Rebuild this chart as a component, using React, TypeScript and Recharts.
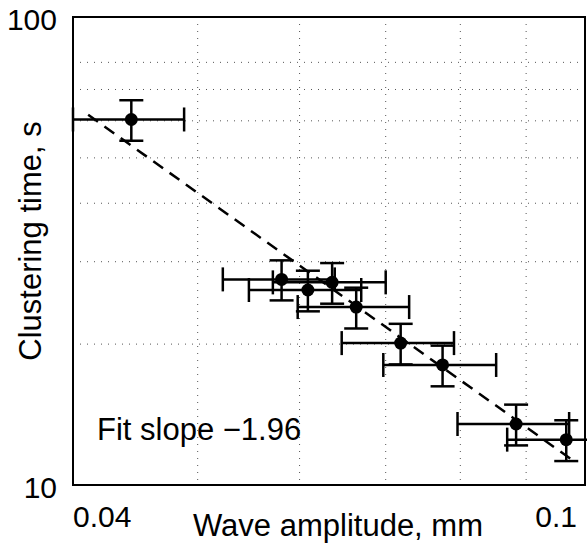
import {
  ScatterChart, Scatter, XAxis, YAxis, CartesianGrid, ErrorBar, ReferenceArea,
} from 'recharts'

// wave amplitude (mm) vs clustering time (s)
const amplitude = [0.0444, 0.0581, 0.0609, 0.0636, 0.0664, 0.0719, 0.0775, 0.0884, 0.0967]
const clusterTime = [60.4, 27.5, 26.1, 27.1, 24.0, 20.1, 18.05, 13.5, 12.5]
const amplitudeErr = [0.0044, 0.0058, 0.0061, 0.0064, 0.0066, 0.0072, 0.0078, 0.0088, 0.0097]
const timeErr = [6.0, 2.7, 2.6, 2.7, 2.4, 2.0, 1.8, 1.35, 1.25]

// power-law fit, slope -1.96 in log-log
const fitAmplitude = [0.0411, 0.0985]
const fitTime = [61.8, 11.14]

const xTicks = [0.04, 0.05, 0.06, 0.07, 0.08, 0.09, 0.1]
const yTicks = [10, 20, 30, 40, 50, 60, 70, 80, 90, 100]
const xLabelled = [0.04, 0.1]
const yLabelled = [10, 100]

const FONT = '"Liberation Sans", Arial, Helvetica, sans-serif'

const points = amplitude.map((a, i) => ({
  x: a, y: clusterTime[i], xErr: amplitudeErr[i], yErr: timeErr[i],
}))
const fitLine = fitAmplitude.map((a, i) => ({ x: a, y: fitTime[i] }))

const XTick = (props: any) => {
  const v = props.payload.value
  if (!xLabelled.includes(v)) return <g />
  const first = v === xLabelled[0]
  return (
    <text x={props.x} y={props.y + 42} textAnchor={first ? 'start' : 'end'}
      fontFamily={FONT} fontSize={30} fill="#000">
      {String(v)}
    </text>
  )
}

const YTick = (props: any) => {
  const v = props.payload.value
  if (!yLabelled.includes(v)) return <g />
  return (
    <text x={props.x - 16} y={props.y + 13} textAnchor="end" fontFamily={FONT} fontSize={30} fill="#000">
      {String(v)}
    </text>
  )
}

const Dot = (props: any) => <circle cx={props.cx} cy={props.cy} r={6.5} fill="#000" />

export default function App() {
  return (
    <div style={{ position: 'absolute', left: 0, top: 0, background: '#fff' }}>
      <ScatterChart width={587} height={552} margin={{ top: 17, right: 2, bottom: 0, left: 0 }}>
        <CartesianGrid strokeDasharray="1 6" stroke="#555" strokeWidth={1} />
        <XAxis
          dataKey="x" type="number" scale="log" domain={[0.04, 0.1]} allowDataOverflow
          ticks={xTicks} tick={<XTick />} tickLine={false} axisLine={false} tickSize={0} tickMargin={0}
          height={67}
          label={{
            content: ({ viewBox }: any) => (
              <text x={viewBox.x + viewBox.width / 2 + 9} y={viewBox.y + 51} textAnchor="middle"
                fontFamily={FONT} fontSize={31} fill="#000">
                Wave amplitude, mm
              </text>
            ),
          }}
        />
        <YAxis
          dataKey="y" type="number" scale="log" domain={[10, 100]} allowDataOverflow
          ticks={yTicks} tick={<YTick />} tickLine={false} axisLine={false} tickSize={0} tickMargin={0}
          width={73}
          label={{
            content: ({ viewBox }: any) => {
              const cx = 41
              const cy = viewBox.y + viewBox.height / 2 - 10
              return (
                <text x={cx} y={cy} transform={`rotate(-90, ${cx}, ${cy})`} textAnchor="middle"
                  fontFamily={FONT} fontSize={31} fill="#000">
                  Clustering time, s
                </text>
              )
            },
          }}
        />
        <Scatter
          data={fitLine} line={{ stroke: '#000', strokeWidth: 2.5, strokeDasharray: '12 8' }}
          shape={() => <g />} isAnimationActive={false}
        />
        <Scatter data={points} shape={<Dot />} isAnimationActive={false}>
          <ErrorBar dataKey="xErr" direction="x" width={12} stroke="#000" strokeWidth={2.5} isAnimationActive={false} />
          <ErrorBar dataKey="yErr" direction="y" width={12} stroke="#000" strokeWidth={2.5} isAnimationActive={false} />
        </Scatter>
        <ReferenceArea
          x1={0.04} x2={0.1} y1={10} y2={100} fill="none" fillOpacity={0} stroke="#000" strokeWidth={2}
          label={{
            content: ({ viewBox }: any) => (
              <text x={viewBox.x + 24} y={viewBox.y + viewBox.height - 45} fontFamily={FONT} fontSize={31} fill="#000">
                Fit slope −1.96
              </text>
            ),
          }}
        />
      </ScatterChart>
    </div>
  )
}
